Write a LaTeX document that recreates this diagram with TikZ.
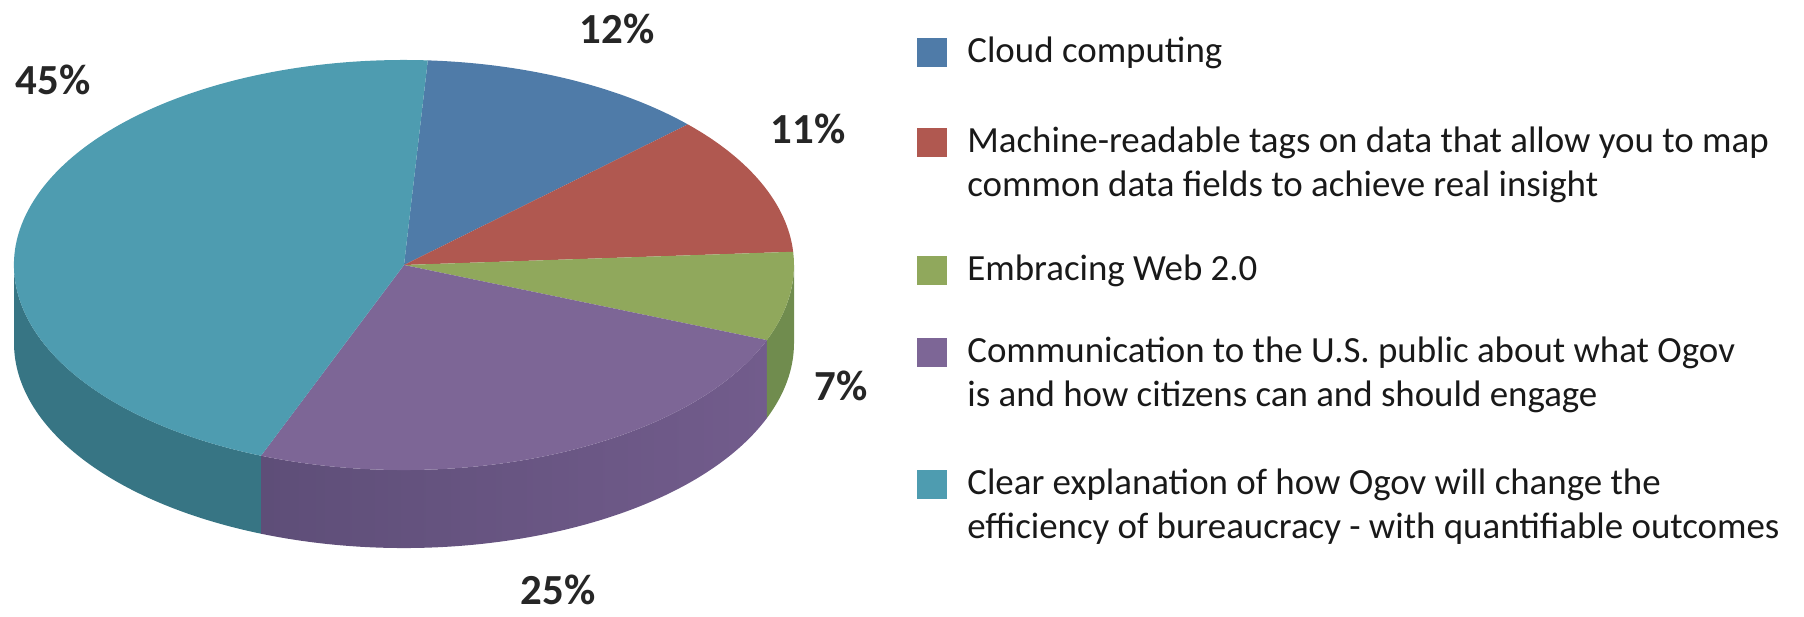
\documentclass[tikz,border=0pt]{standalone}
\usepackage{fontspec}
\setmainfont{Carlito}
\usepackage{tikz}

\definecolor{cloudblue}{RGB}{79,123,168}
\definecolor{tagsred}{RGB}{176,88,80}
\definecolor{webgreen}{RGB}{144,168,92}
\definecolor{publicpurple}{RGB}{125,102,150}
\definecolor{ogovteal}{RGB}{78,156,176}
\definecolor{tealside}{RGB}{55,117,132}
\definecolor{purpleside}{RGB}{94,78,120}
\definecolor{purplesidelight}{RGB}{114,92,140}
\definecolor{greenside}{RGB}{112,140,78}

\begin{document}
\begin{tikzpicture}[x=0.02cm, y=0.02cm,
    pct/.style={font=\fontsize{24.4}{28}\selectfont\bfseries, text=black!85, inner sep=0pt},
    legtext/.style={font=\fontsize{21}{25}\selectfont, align=left, anchor=west, inner sep=0pt, text=black!90},
    legbox/.style={minimum width=0.6cm, minimum height=0.58cm, inner sep=0pt}]
    \useasboundingbox (0,0) rectangle (1804,617);
    \coordinate (c) at (404,352);

    % sides of the pie
    \fill[tealside] (c) ++(180:390 and 205) arc[start angle=180, end angle=248.5, x radius=390, y radius=205]
        -- ++(0,-78) arc[start angle=248.5, end angle=180, x radius=390, y radius=205] -- cycle;
    \shade[left color=purpleside, right color=purplesidelight] (c) ++(248.5:390 and 205) arc[start angle=248.5, end angle=338.5, x radius=390, y radius=205]
        -- ++(0,-78) arc[start angle=338.5, end angle=248.5, x radius=390, y radius=205] -- cycle;
    \fill[greenside] (c) ++(338.5:390 and 205) arc[start angle=338.5, end angle=360, x radius=390, y radius=205]
        -- ++(0,-78) arc[start angle=360, end angle=338.5, x radius=390, y radius=205] -- cycle;

    % top of the pie
    \foreach \from/\to/\col in {86.5/43.3/cloudblue, 43.3/3.7/tagsred, 3.7/-21.5/webgreen,
                                -21.5/-111.5/publicpurple, -111.5/-273.5/ogovteal}
        \fill[\col] (c) -- ++(\from:390 and 205) arc[start angle=\from, end angle=\to, x radius=390, y radius=205] -- cycle;

    \node[pct] (p12) at (617,588) {12\%};
    \node[pct] (p11) at (808,488) {11\%};
    \node[pct] (p7) at (841,231) {7\%};
    \node[pct] (p25) at (558,27) {25\%};
    \node[pct] (p45) at (53,537) {45\%};

    % legend
    \node[legbox, fill=cloudblue] (box1) at (932,564) {};
    \node[legbox, fill=tagsred] (box2) at (932,474) {};
    \node[legbox, fill=webgreen] (box3) at (932,346) {};
    \node[legbox, fill=publicpurple] (box4) at (932,264) {};
    \node[legbox, fill=ogovteal] (box5) at (932,132) {};

    \node[legtext] (leg1) at (967,564) {Cloud computing};
    \node[legtext] (leg2) at (967,452) {Machine-readable tags on data that allow you to map\\common data fields to achieve real insight};
    \node[legtext] (leg3) at (967,346) {Embracing Web 2.0};
    \node[legtext] (leg4) at (967,242) {Communication to the U.S. public about what Ogov\\is and how citizens can and should engage};
    \node[legtext] (leg5) at (967,110) {Clear explanation of how Ogov will change the\\efficiency of bureaucracy - with quantifiable outcomes};
\end{tikzpicture}
\end{document}
